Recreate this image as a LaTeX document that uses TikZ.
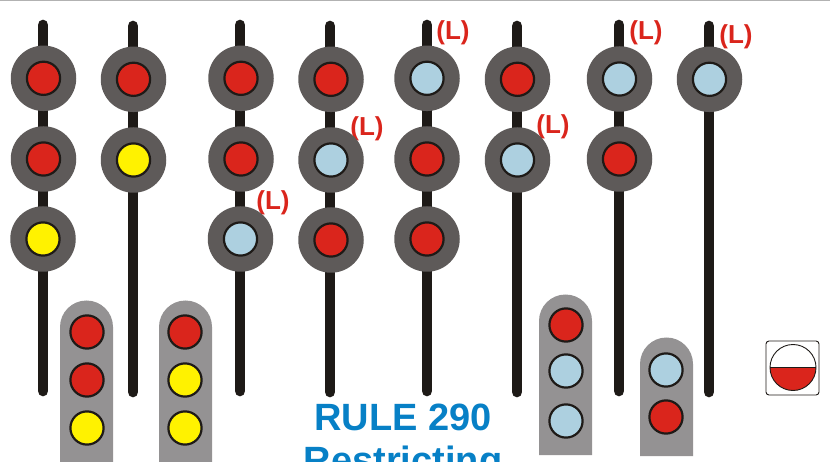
\documentclass[tikz,border=0pt]{standalone}
\usepackage[HTML]{xcolor}
\usepackage{fontspec}
\setmainfont{Liberation Sans}
\definecolor{mastblack}{HTML}{1E1A17}
\definecolor{headgrey}{HTML}{5E5A59}
\definecolor{dwarfgrey}{HTML}{949293}
\definecolor{lampred}{HTML}{DA251C}
\definecolor{lampyellow}{HTML}{FFF200}
\definecolor{lampblue}{HTML}{ADD0E0}
\definecolor{ruleblue}{HTML}{0780C6}
\tikzset{
  mast/.style={line width=10.7pt,line cap=round,mastblack},
  head/.style={circle,fill=headgrey,minimum size=65.5pt,inner sep=0pt},
  lamp/.style={circle,draw=mastblack,line width=2.2pt,minimum size=33.2pt,inner sep=0pt},
  dwarf/.style={fill=dwarfgrey},
  lunar/.style={text=lampred,font=\bfseries\fontsize{26}{30}\selectfont},
  ruletext/.style={text=ruleblue,anchor=base,font=\bfseries\fontsize{38}{43}\selectfont}
}
\begin{document}
\begin{tikzpicture}[x=1pt,y=-1pt]
\useasboundingbox (0,0) rectangle (830,462);
\draw[black!30,line width=1pt] (0,0.5)--(830,0.5);

% masts
\foreach \x/\t/\b in {43/25/391,133/26/392,240/25/391,330/26/392,427/25/391,517/26/392,619/25/391,709/26/392}
  \draw[mast] (\x,\t)--(\x,\b);

% restricting marks, heads go over them
\node[lunar] (markC) at (273,202.5) {(L)};
\node[lunar] (markD) at (367,128.5) {(L)};
\node[lunar] (markE) at (453,32.5) {(L)};
\node[lunar] (markF) at (553,126.5) {(L)};
\node[lunar] (markG) at (646,32.5) {(L)};
\node[lunar] (markH) at (736,36.5) {(L)};

% high signals
\foreach \n/\x/\y/\c in {
  a1/43.5/78.3/lampred,a2/43.5/159/lampred,a3/43/239/lampyellow,
  b1/133.5/79.3/lampred,b2/133.5/160/lampyellow,
  c1/241/78.3/lampred,c2/241/159/lampred,c3/240.5/239/lampblue,
  d1/331/79.3/lampred,d2/331/160/lampblue,d3/331/240/lampred,
  e1/427/78.3/lampblue,e2/427/159/lampred,e3/427/239/lampred,
  f1/517.5/79.3/lampred,f2/517.5/160/lampblue,
  g1/619.5/79/lampblue,g2/619.5/159/lampred,
  h1/709.5/79.3/lampblue}{
  \node[head] (head\n) at (\x,\y) {};
  \node[lamp,fill=\c] (lamp\n) at (head\n) {};
}

% dwarf signals
\fill[dwarf] (60,480)--(60,327) arc[start angle=180,end angle=0,radius=26.5pt]--(113,480)--cycle;
\fill[dwarf] (159,480)--(159,327) arc[start angle=180,end angle=0,radius=26.5pt]--(212,480)--cycle;
\fill[dwarf] (539,455)--(539,321) arc[start angle=180,end angle=0,radius=26.5pt]--(592,455)--cycle;
\fill[dwarf] (640,456)--(640,364) arc[start angle=180,end angle=0,radius=26.5pt]--(693,456)--cycle;
\foreach \n/\x/\y/\c in {
  p1/87/332/lampred,p2/87/380/lampred,p3/87/428/lampyellow,
  q1/185/332/lampred,q2/185/380/lampyellow,q3/185/428/lampyellow,
  r1/566/325/lampred,r2/566/371/lampblue,r3/566/421/lampblue,
  s1/666/370/lampblue,s2/666/417/lampred}
  \node[lamp,fill=\c] (lamp\n) at (\x,\y) {};

% title
\node[ruletext] (ruleno) at (403,430) {RULE 290};
\node[ruletext] (rulename) at (403,473) {Restricting};

% indication icon
\draw[mastblack,line width=0.9pt,rounded corners=3pt] (766,341) rectangle (819,395);
\fill[lampred] (770,367.5) arc[start angle=180,end angle=360,radius=23pt]--cycle;
\draw[mastblack,line width=0.9pt] (793,367.5) circle (23pt);
\draw[mastblack,line width=0.9pt] (770,367.5)--(816,367.5);
\end{tikzpicture}
\end{document}
